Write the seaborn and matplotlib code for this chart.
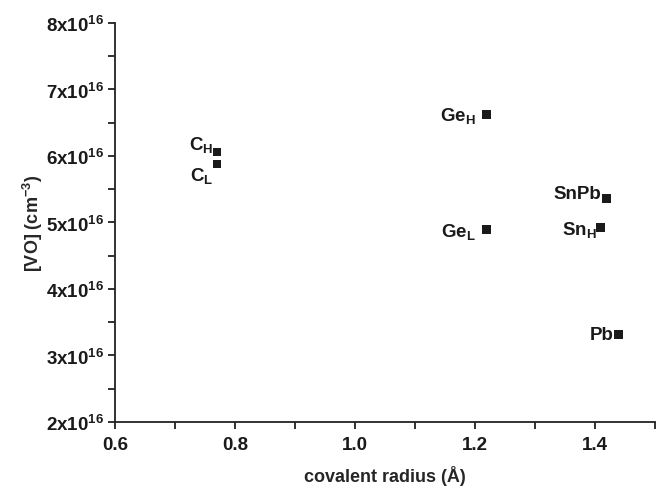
import matplotlib
matplotlib.use('Agg')
import matplotlib.pyplot as plt
from matplotlib.ticker import MultipleLocator, FuncFormatter
import numpy as np
import pandas as pd
import seaborn as sns

# values
samples = ['C_H', 'C_L', 'Ge_H', 'Ge_L', 'SnPb', 'Sn_H', 'Pb']
labels = [r'$\mathregular{C_H}$', r'$\mathregular{C_L}$', r'$\mathregular{Ge_H}$',
          r'$\mathregular{Ge_L}$', 'SnPb', r'$\mathregular{Sn_H}$', 'Pb']
radius = [0.77, 0.77, 1.22, 1.22, 1.42, 1.41, 1.44]
vo = [6.06e16, 5.88e16, 6.62e16, 4.89e16, 5.36e16, 4.92e16, 3.31e16]
# label offsets (points) from each marker
offsets = [(-3, 6), (-3, -8), (-8, 0), (-8, -1), (-4, 3.5), (-3, -1), (-3.5, 0)]

sns.set_style('ticks')
plt.rcParams['font.family'] = ['Liberation Sans', 'DejaVu Sans']
plt.rcParams['font.weight'] = 'bold'
plt.rcParams['mathtext.fontset'] = 'custom'
plt.rcParams['mathtext.rm'] = 'Liberation Sans:bold'
plt.rcParams['mathtext.it'] = 'Liberation Sans:bold'
plt.rcParams['mathtext.bf'] = 'Liberation Sans:bold'

df = pd.DataFrame({'sample': samples, 'radius': radius, 'vo': vo})

fig = plt.figure(figsize=(6.62, 4.89), dpi=100)
ax = fig.add_axes([0.174, 0.135, 0.815, 0.816])
sns.scatterplot(x='radius', y='vo', data=df, marker='s', s=40, color='#1a1a1a',
                edgecolor='none', ax=ax, zorder=3)

for lab, x, y, off in zip(labels, radius, vo, offsets):
  ax.annotate(lab, (x, y), xytext=off, textcoords='offset points',
              ha='right', va='center', fontsize=13.5, color='#1a1a1a', fontweight='bold')

ax.set_xlim(0.6, 1.5)
ax.set_ylim(2e16, 8e16)
ax.xaxis.set_major_locator(MultipleLocator(0.2))
ax.xaxis.set_minor_locator(MultipleLocator(0.1))
ax.yaxis.set_major_locator(MultipleLocator(1e16))
ax.yaxis.set_minor_locator(MultipleLocator(0.5e16))
ax.xaxis.set_major_formatter(FuncFormatter(lambda v, p: f'{v:.1f}'))
ax.yaxis.set_major_formatter(FuncFormatter(lambda v, p: r'$\mathregular{%dx10^{16}}$' % round(v / 1e16)))

for side in ['top', 'right']:
  ax.spines[side].set_visible(False)
for side in ['left', 'bottom']:
  ax.spines[side].set_linewidth(1.3)
  ax.spines[side].set_color('#222222')
ax.tick_params(which='both', direction='out', length=5, width=1.3, color='#222222',
               labelsize=13.5, labelcolor='#1a1a1a')
ax.tick_params(axis='x', which='both', pad=5)
ax.tick_params(axis='y', which='both', pad=3)

ax.set_xlabel('covalent radius (Å)', fontsize=13, fontweight='bold', labelpad=9)
ax.set_ylabel(r'[VO] (cm$^{\mathregular{-3}}$)', fontsize=13, fontweight='bold', labelpad=1)

fig.savefig('out.png', dpi=100)
